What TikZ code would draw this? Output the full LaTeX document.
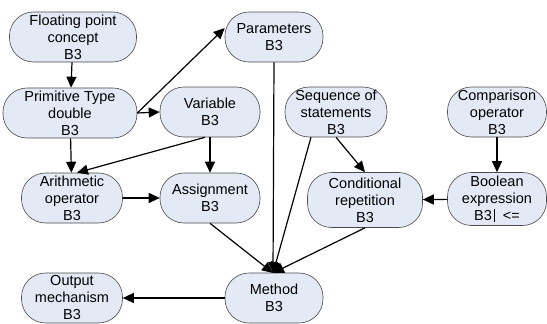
\documentclass[tikz,border=0pt]{standalone}
\usepackage{fontspec}
\setmainfont{Liberation Sans}
\usepackage{tikz}
\usetikzlibrary{arrows.meta,calc,positioning}
\definecolor{TopicFill}{HTML}{E4E9F6}
\definecolor{TopicLine}{HTML}{4A4A4A}

\begin{document}
\begin{tikzpicture}[x=1pt,y=-1pt,
    topic/.style={draw=TopicLine,fill=TopicFill,line width=0.6pt,rounded corners=24pt,align=center,inner sep=0pt,minimum height=50pt,font=\fontsize{14.5}{17}\selectfont},
    link/.style={-{Triangle[length=11pt,width=10pt]},line width=1.2pt,black}]
    \useasboundingbox (0,0) rectangle (547,324);

    \node[topic,minimum width=127pt] (float) at (73,37) {Floating point\\concept\\B3};
    \node[topic,minimum width=134pt] (prim) at (70,113) {Primitive Type\\double\\B3};
    \node[topic,minimum width=98pt] (param) at (274,37) {Parameters\\B3};
    \node[topic,minimum width=100pt] (var) at (210,112) {Variable\\B3};
    \node[topic,minimum width=102pt] (seq) at (336,112) {Sequence of\\statements\\B3};
    \node[topic,minimum width=99pt] (comp) at (497,112) {Comparison\\operator\\B3};
    \node[topic,minimum width=101pt] (arith) at (72,198) {Arithmetic\\operator\\B3};
    \node[topic,minimum width=100pt] (assign) at (210,198) {Assignment\\B3};
    \node[topic,minimum width=115pt,minimum height=55pt] (cond) at (365,200) {Conditional\\repetition\\B3};
    \node[topic,minimum width=99pt,minimum height=53pt] (bool) at (497,199) {Boolean\\expression\\B3\,\rule[-2pt]{0.6pt}{13pt}\ \ {<=}};
    \node[topic,minimum width=101pt] (out) at (72,298) {Output\\mechanism\\B3};
    \node[topic,minimum width=98pt] (method) at (274,298) {Method\\B3};

    \coordinate (hub) at (273,273);

    \draw[link] (float) -- (prim);
    \draw[link] (prim.east) -- ($(param.west)+(0,-9)$);
    \draw[link] (prim.east) -- (var.west);
    \draw[link] (prim) -- (arith);
    \draw[link] ($(var.south)+(-5,0)$) -- ($(arith.north)+(5,0)$);
    \draw[link] (var) -- (assign);
    \draw[link] (arith) -- (assign);
    \draw[link] (param.south) -- (hub);
    \draw[link] ($(seq.south)+(-25,0)$) -- (hub);
    \draw[link] (seq.south) -- (cond.north);
    \draw[link] (comp) -- (bool);
    \draw[link] (bool) -- (cond);
    \draw[link] (assign.south) -- (hub);
    \draw[link] (cond.south) -- (hub);
    \draw[link] (method) -- (out);
  \end{tikzpicture}
\end{document}
